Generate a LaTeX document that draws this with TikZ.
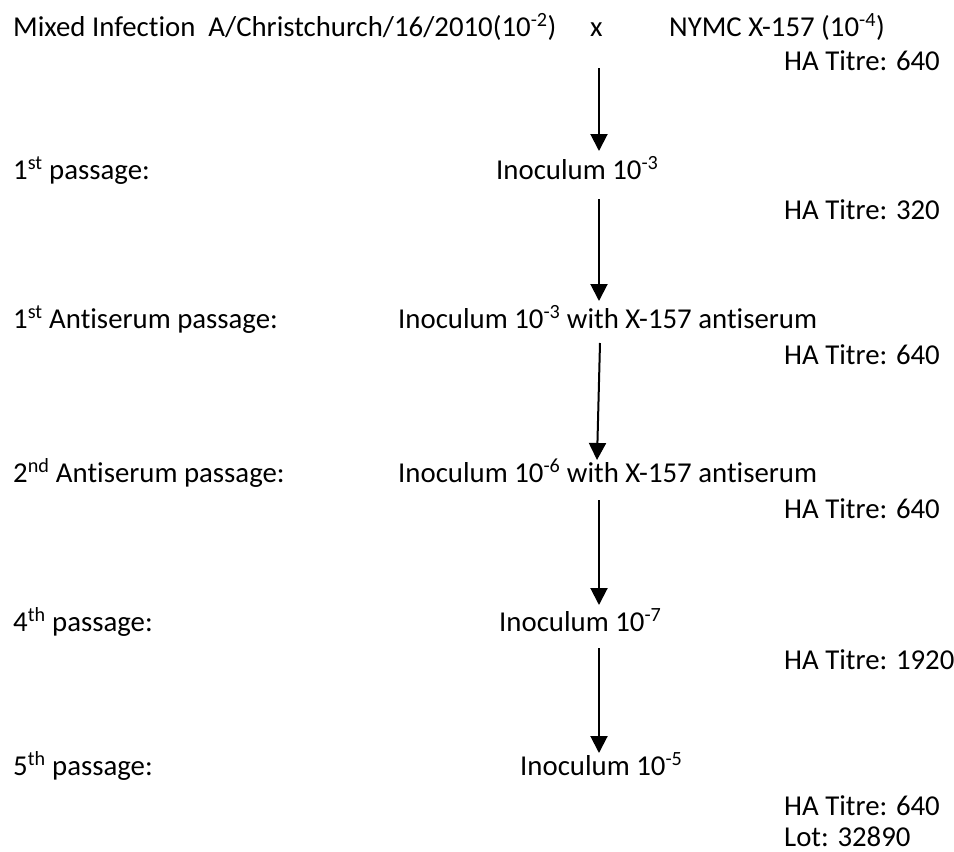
\documentclass[tikz,border=0pt]{standalone}
\usepackage{fontspec}
\setmainfont{Carlito}[Ligatures={NoCommon}]
\usetikzlibrary{arrows.meta}
\begin{document}
\begin{tikzpicture}[x=1pt,y=-1pt,
  lbl/.style={anchor=base west,inner sep=0pt,font=\fontsize{28.8}{34}\selectfont},
  flow/.style={line width=2pt,-{Triangle[width=17pt,length=17pt]}}]
\useasboundingbox (0,0) rectangle (954,852);
% row 1
\node[lbl] (mix) at (13,36) {Mixed Infection\ \ A/Christchurch/16/2010(10\textsuperscript{-2})};
\node[lbl] (x) at (590,36) {x};
\node[lbl] (nymc) at (669,36) {NYMC X-157 (10\textsuperscript{-4})};
\node[lbl] (ha1) at (784,70) {HA Titre: 640};
% row 2
\node[lbl] (p1) at (13,179) {1\textsuperscript{st} passage:};
\node[lbl] (i1) at (496,179) {Inoculum 10\textsuperscript{-3}};
\node[lbl] (ha2) at (784,219) {HA Titre: 320};
% row 3
\node[lbl] (p2) at (13,328) {1\textsuperscript{st} Antiserum passage:};
\node[lbl] (i2) at (398,328) {Inoculum 10\textsuperscript{-3} with X-157 antiserum};
\node[lbl] (ha3) at (784,364) {HA Titre: 640};
% row 4
\node[lbl] (p3) at (13,482) {2\textsuperscript{nd} Antiserum passage:};
\node[lbl] (i3) at (398,482) {Inoculum 10\textsuperscript{-6} with X-157 antiserum};
\node[lbl] (ha4) at (784,518) {HA Titre: 640};
% row 5
\node[lbl] (p4) at (13,631) {4\textsuperscript{th} passage:};
\node[lbl] (i4) at (499,631) {Inoculum 10\textsuperscript{-7}};
\node[lbl] (ha5) at (784,669) {HA Titre: 1920};
% row 6
\node[lbl] (p5) at (13,775) {5\textsuperscript{th} passage:};
\node[lbl] (i5) at (520,775) {Inoculum 10\textsuperscript{-5}};
\node[lbl] (ha6) at (784,815) {HA Titre: 640};
\node[lbl] (lot) at (784,846) {Lot: 32890};
% arrows
\coordinate (a1s) at (599,68);  \coordinate (a1e) at (599,151);
\coordinate (a2s) at (599,199); \coordinate (a2e) at (599,301);
\coordinate (a3s) at (600,343); \coordinate (a3e) at (597,460);
\coordinate (a4s) at (599,500); \coordinate (a4e) at (599,605);
\coordinate (a5s) at (599,648); \coordinate (a5e) at (599,753);
\draw[flow] (a1s) -- (a1e);
\draw[flow] (a2s) -- (a2e);
\draw[flow] (a3s) -- (a3e);
\draw[flow] (a4s) -- (a4e);
\draw[flow] (a5s) -- (a5e);
\end{tikzpicture}
\end{document}
